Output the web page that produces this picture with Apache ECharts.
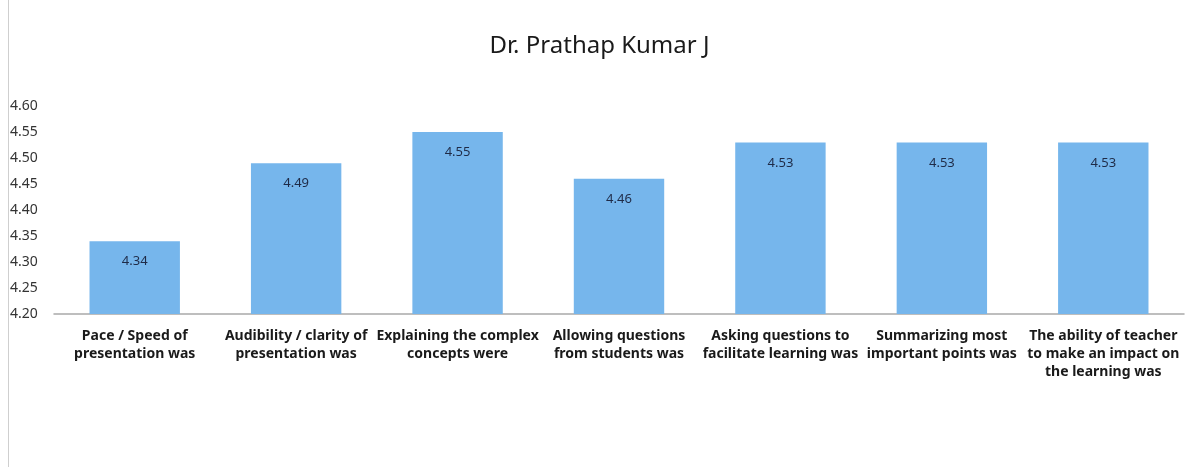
<!DOCTYPE html>
<html>
<head>
<meta charset="utf-8">
<title>Dr. Prathap Kumar J</title>
<script src="https://cdn.jsdelivr.net/npm/echarts@6/dist/echarts.min.js"></script>
<style>
    html, body { margin: 0; padding: 0; background: #fff; }
    #chart { width: 1199px; height: 467px; }
</style>
</head>
<body>
<div id="chart"></div>
<script>
    // 类别和分数
    var categories = [
        'Pace / Speed of\npresentation was',
        'Audibility / clarity of\npresentation was',
        'Explaining the complex\nconcepts were',
        'Allowing questions\nfrom students was',
        'Asking questions to\nfacilitate learning was',
        'Summarizing most\nimportant points was',
        'The ability of teacher\nto make an impact on\nthe learning was'
    ]
    var scores = [4.34, 4.49, 4.55, 4.46, 4.53, 4.53, 4.53]
    var yTicks = [4.20, 4.25, 4.30, 4.35, 4.40, 4.45, 4.50, 4.55, 4.60]

    var chartInstance = echarts.init(document.getElementById('chart'))
    var option = {
        animation: false,
        // 左边的页面边框线
        graphic: [{
            type: 'line',
            shape: { x1: 8.5, y1: 0, x2: 8.5, y2: 467 },
            style: { stroke: '#cfcfcf', lineWidth: 1 }
        }],
        title: {
            text: 'Dr. Prathap Kumar J',
            left: 'center',
            top: 29,
            textStyle: {
                fontFamily: 'Noto Sans',
                fontSize: 24,
                fontWeight: 'normal',
                color: '#1a1a1a'
            }
        },
        grid: {
            left: 54,
            right: 15,
            top: 106,
            bottom: 153
        },
        xAxis: {
            type: 'category',
            data: categories,
            axisTick: { show: false },
            axisLine: { lineStyle: { color: '#a9a9a9', width: 1.5 } },
            axisLabel: {
                interval: 0,
                margin: 13,
                lineHeight: 18,
                fontFamily: 'Noto Sans',
                fontSize: 14,
                fontWeight: 'bold',
                color: '#1a1a1a'
            }
        },
        yAxis: {
            type: 'value',
            min: yTicks[0],
            max: yTicks[yTicks.length - 1],
            interval: 0.05,
            splitLine: { show: false },
            axisLine: { show: false },
            axisTick: { show: false },
            axisLabel: {
                align: 'left',
                margin: 44,
                fontFamily: 'Noto Sans',
                fontSize: 14,
                color: '#333',
                formatter: function (v) { return v.toFixed(2) }
            }
        },
        series: [{
            type: 'bar',
            data: scores,
            barWidth: '56%',
            itemStyle: { color: '#76b6ec' },
            label: {
                show: true,
                position: 'insideTop',
                distance: 14,
                fontFamily: 'Noto Sans',
                fontSize: 13,
                color: '#1f2b47',
                formatter: function (p) { return p.value.toFixed(2) }
            }
        }]
    }
    chartInstance.setOption(option)
</script>
</body>
</html>
